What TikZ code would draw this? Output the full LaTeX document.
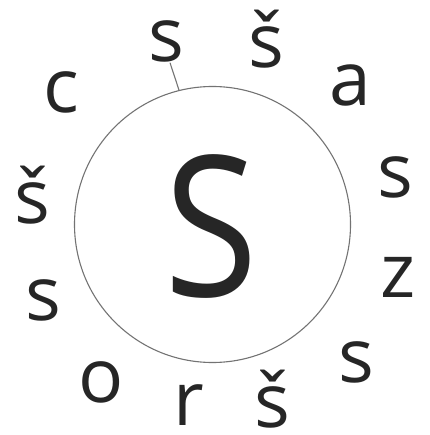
\documentclass[tikz,border=0pt]{standalone}
\usepackage{fontspec}
\setmainfont{Open Sans}
\begin{document}
\begin{tikzpicture}[x=1pt,y=-1pt,
  lt/.style={inner sep=0pt, outer sep=0pt, anchor=base, font=\fontsize{75}{75}\selectfont, text=black!85},
  ringstyle/.style={circle, draw=black!55, line width=1.1pt, minimum size=276pt, inner sep=0pt},
  tickline/.style={draw=black!55, line width=1.1pt}]
\useasboundingbox (0,0) rectangle (429,435);
\node[ringstyle] (ring) at (212.5,224.5) {};
\node[lt, font=\fontsize{196}{196}\selectfont, xscale=0.87, transform shape] (big) at (211,296) {S};
\node[lt] (s1) at (166,62) {s};
\node[lt] (s2) at (266,68) {š};
\node[lt] (s3) at (350,106) {a};
\node[lt] (s4) at (395,197) {s};
\node[lt] (s5) at (398,297) {z};
\node[lt] (s6) at (356,382) {s};
\node[lt] (s7) at (272,427) {š};
\node[lt] (s8) at (189,425) {r};
\node[lt] (s9) at (101,402) {o};
\node[lt] (s10) at (43,320) {s};
\node[lt] (s11) at (32,223) {š};
\node[lt] (s12) at (61,113) {c};
\draw[tickline] ([xshift=4pt]s1.south) -- (ring.104);
\end{tikzpicture}
\end{document}
